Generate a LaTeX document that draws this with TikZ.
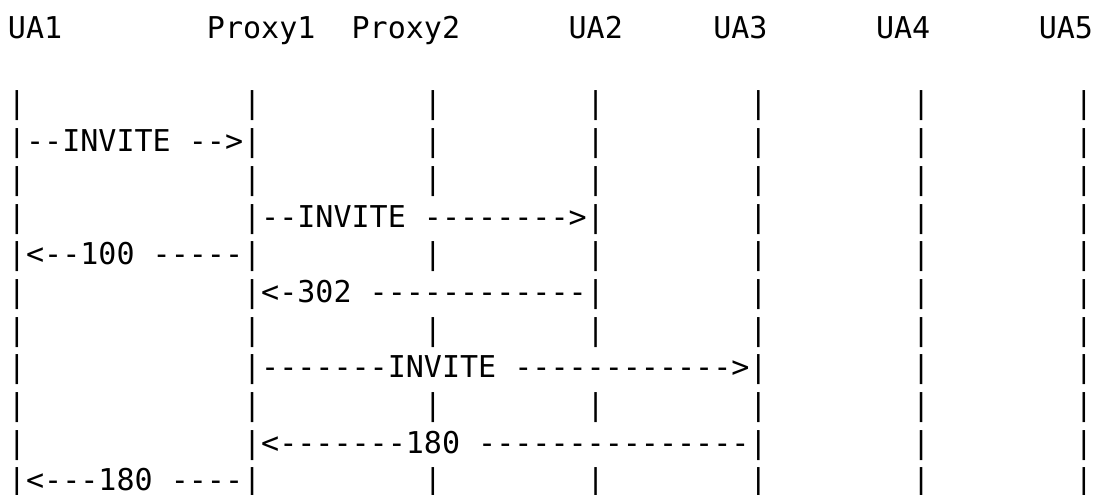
\documentclass[tikz,border=0pt]{standalone}
\usepackage{fontspec}
\setmonofont{DejaVu Sans Mono}
\tikzset{asc/.style={anchor=base west, inner sep=0pt, outer sep=0pt,
  font=\ttfamily\fontsize{30.04pt}{37.7pt}\selectfont, text=black}}
\newcommand\seg[4]{\node[asc] (#1) at ({8pt+#3*18.0833pt},{-38.5pt-#2*37.7pt}) {#4};}
\begin{document}
\begin{tikzpicture}
\useasboundingbox (0,0) rectangle (1093pt,-495pt);
% header
\seg{ua1}{0}{0}{UA1}
\seg{proxy1}{0}{11}{Proxy1}
\seg{proxy2}{0}{19}{Proxy2}
\seg{ua2}{0}{31}{UA2}
\seg{ua3}{0}{39}{UA3}
\seg{ua4}{0}{48}{UA4}
\seg{ua5}{0}{57}{UA5}
% lifelines
\foreach \r in {2,4,8,10}{\foreach \c in {0,13,23,32,41,50,59}{\seg{l\r-\c}{\r}{\c}{|}}}
\foreach \r in {3,6,12}{\foreach \c in {23,32,41,50,59}{\seg{l\r-\c}{\r}{\c}{|}}}
\foreach \r in {5,7}{\foreach \c in {0,41,50,59}{\seg{l\r-\c}{\r}{\c}{|}}}
\foreach \r in {9,11}{\foreach \c in {0,50,59}{\seg{l\r-\c}{\r}{\c}{|}}}
% messages
\seg{m1}{3}{0}{|--INVITE\ -->|}
\seg{m2}{5}{13}{|--INVITE\ -------->|}
\seg{m3}{6}{0}{|<--100\ -----|}
\seg{m4}{7}{13}{|<-302\ ------------|}
\seg{m5}{9}{13}{|-------INVITE\ ------------>|}
\seg{m6}{11}{13}{|<-------180\ ---------------|}
\seg{m7}{12}{0}{|<---180\ ----|}
\end{tikzpicture}
\end{document}
